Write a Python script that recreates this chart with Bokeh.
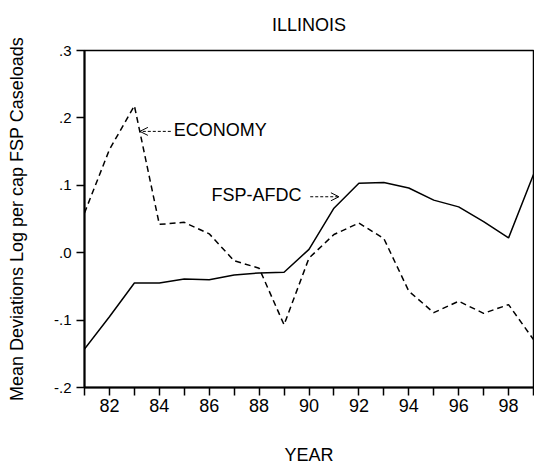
from bokeh.plotting import figure
from bokeh.models import Range1d, FixedTicker, Arrow, OpenHead, Label
from bokeh.embed import file_html
from bokeh.resources import INLINE

# ---- data ----
years = list(range(1981, 2000))
year_short = [y - 1900 for y in years]
fsp_afdc = [-0.143, -0.095, -0.045, -0.045, -0.039, -0.040, -0.033, -0.030, -0.029,
            0.005, 0.066, 0.103, 0.104, 0.096, 0.078, 0.068, 0.046, 0.022, 0.116]
economy = [0.059, 0.153, 0.218, 0.042, 0.045, 0.028, -0.012, -0.023, -0.107,
           -0.008, 0.027, 0.044, 0.021, -0.057, -0.089, -0.072, -0.090, -0.077, -0.129]

x_major_ticks = [82, 84, 86, 88, 90, 92, 94, 96, 98]
x_minor_ticks = [81, 83, 85, 87, 89, 91, 93, 95, 97, 99]
y_tick_values = [-0.2, -0.1, 0.0, 0.1, 0.2, 0.3]
y_tick_labels = ["-.2", "-.1", ".0", ".1", ".2", ".3"]
title_text = "ILLINOIS"

# annotation anchors (data units)
econ_label = ("ECONOMY", 84.58, 0.1816)
econ_arrow = (84.46, 0.180, 83.22, 0.180)
fsp_label = ("FSP-AFDC", 86.09, 0.0852)
fsp_arrow = (90.05, 0.083, 91.20, 0.083)

FONT = "Liberation Sans"

p = figure(width=534, height=468, output_backend="svg", toolbar_location=None,
           x_range=Range1d(81, 99), y_range=Range1d(-0.2, 0.3),
           min_border_left=84, min_border_right=1, min_border_top=49,
           min_border_bottom=81, title=title_text)

p.title.text_font = FONT
p.title.text_font_size = "18px"
p.title.text_font_style = "normal"
p.title.text_color = "black"
p.title.align = "center"
p.title.offset = -6
p.title.standoff = 28
p.title.vertical_align = "top"

p.grid.visible = False
p.outline_line_color = "black"
p.outline_line_width = 1.5
p.background_fill_color = "white"
p.border_fill_color = "white"

p.line(year_short, fsp_afdc, line_color="black", line_width=1.5)
p.line(year_short, economy, line_color="black", line_width=1.5, line_dash="6 4")

for ax in (p.xaxis[0], p.yaxis[0]):
    ax.axis_label_text_font = FONT
    ax.axis_label_text_font_size = "18px"
    ax.axis_label_text_font_style = "normal"
    ax.axis_label_text_color = "black"
    ax.major_label_text_font = FONT
    ax.major_label_text_color = "black"
    ax.axis_line_color = "black"
    ax.axis_line_width = 2
    ax.major_tick_line_color = "black"
    ax.minor_tick_line_color = "black"
    ax.major_tick_line_width = 1.5
    ax.minor_tick_line_width = 1.5
    ax.major_tick_out = 8
    ax.major_tick_in = 0
    ax.minor_tick_in = 0

xa = p.xaxis[0]
xa.ticker = FixedTicker(ticks=x_major_ticks, minor_ticks=x_minor_ticks)
xa.axis_label = "YEAR"
xa.axis_label_standoff = 30
xa.major_label_text_font_size = "18px"
xa.major_label_standoff = 3
xa.minor_tick_out = 8

ya = p.yaxis[0]
ya.ticker = FixedTicker(ticks=y_tick_values, minor_ticks=[])
ya.major_label_overrides = {v: s for v, s in zip(y_tick_values, y_tick_labels)}
ya.axis_label = "Mean Deviations Log per cap FSP Caseloads"
ya.axis_label_standoff = 24
ya.major_label_text_font_size = "15px"
ya.major_label_standoff = 5
ya.minor_tick_out = 0

for txt, x, y in (econ_label, fsp_label):
    p.add_layout(Label(x=x, y=y, text=txt, text_font=FONT, text_font_size="18px",
                       text_baseline="middle", text_align="left", text_color="black"))

for xs, ys, xe, ye in (econ_arrow, fsp_arrow):
    p.add_layout(Arrow(end=OpenHead(size=8, line_width=1, line_color="black"),
                       x_start=xs, y_start=ys, x_end=xe, y_end=ye,
                       line_dash="3 2", line_width=1, line_color="black"))

open("out.html", "w").write(file_html(p, INLINE))
